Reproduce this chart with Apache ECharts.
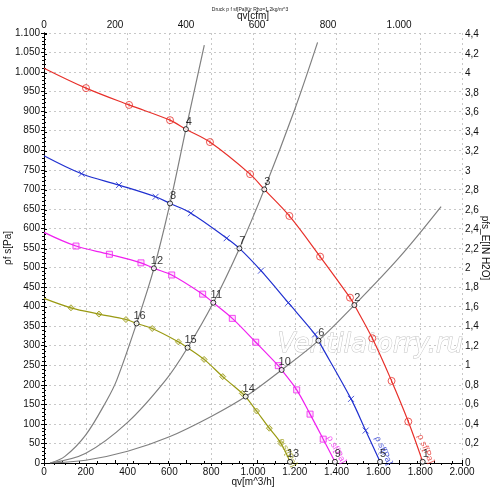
<!DOCTYPE html>
<html>
<head>
<meta charset="utf-8">
<script src="https://cdn.jsdelivr.net/npm/echarts@6/dist/echarts.min.js"></script>
<style>
html, body { margin: 0; padding: 0; background: #fff; }
#chart { width: 500px; height: 493px; }
</style>
</head>
<body>
<div id="chart"></div>
<script>
// Kennlinien ablesen: qv in m^3/h, p in Pa
const redStart = 1010;
const redMarkQ = [201, 407, 603, 794, 986, 1174, 1321, 1464, 1571, 1663, 1743];
const redMarkP = [959, 916, 877, 821, 739, 632, 528, 423, 319, 210, 106];

const blueStart = 786;
const blueMarkQ = [180, 359, 534, 703, 874, 1038, 1169, 1297, 1469, 1539];
const blueMarkP = [740, 711, 681, 639, 575, 492, 410, 329, 164, 83];

const pinkStart = 590;
const pinkMarkQ = [153, 313, 464, 611, 759, 901, 1013, 1121, 1209, 1273, 1336];
const pinkMarkP = [555, 534, 512, 481, 432, 370, 309, 249, 187, 125, 61];

const oliveStart = 421;
const oliveMarkQ = [129, 263, 392, 518, 643, 766, 855, 949, 1017, 1078, 1134];
const oliveMarkP = [397, 381, 367, 344, 310, 265, 221, 178, 133, 89, 50];

// Betriebspunkte 1..16
const pointIds = ['1', '2', '3', '4', '5', '6', '7', '8', '9', '10', '11', '12', '13', '14', '15', '16'];
const pointQ = [1812, 1485, 1054, 679, 1608, 1313, 935, 603, 1392, 1137, 810, 526, 1177, 965, 687, 443];
const pointP = [3, 404, 700, 854, 3, 313, 549, 664, 3, 238, 410, 498, 3, 170, 295, 357];

// Anlagenkennlinien (grau)
const sysAQ = [30, 100, 200, 300, 348, 443, 526, 603, 679, 767];
const sysAP = [0, 17, 72, 160, 212, 357, 498, 664, 854, 1069];
const sysBQ = [30, 200, 400, 582, 687, 810, 935, 1054, 1200, 1309];
const sysBP = [0, 25, 104, 212, 295, 410, 549, 700, 905, 1076];
const sysCQ = [30, 200, 400, 600, 800, 965, 1137, 1313, 1485, 1700, 1900];
const sysCP = [0, 7, 30, 67, 119, 170, 238, 313, 404, 526, 656];

// Beschriftung "ρ sf[Pa]" an den Kurven
const curveLabelQ = [1826, 1624, 1399, 1166];
const curveLabelP = [36, 32, 34, 27];
const curveLabelRot = [-68, -65, -61, -63];

const xTicks = [0, 2000, 200];
const yTicks = [0, 1100, 50];
const cfmPerM3h = 0.58858;
const inH2OPerPa = 1 / 249.089;

const colRed = '#e8302a', colBlue = '#2030d0', colPink = '#f020f0', colOlive = '#9a9a12';

function pairs(q, p) { return q.map((v, i) => [v, p[i]]); }
function curve(start, mq, mp, ids) {
  const pts = [[0, start]].concat(pairs(mq, mp));
  ids.forEach(id => { const i = pointIds.indexOf(id); pts.push([pointQ[i], pointP[i]]); });
  return pts.sort((a, b) => a[0] - b[0]);
}
function thousands(v) {
  v = Math.round(v);
  return v >= 1000 ? Math.floor(v / 1000) + '.' + String(v % 1000).padStart(3, '0') : String(v);
}

const circlePath = 'path://M10,0A10,10,0,1,1,10,20A10,10,0,1,1,10,0ZM10,5L10,15';
const crossPath = 'path://M0,0L20,20M0,20L20,0';

const chart = echarts.init(document.getElementById('chart'));

function lineSeries(data, color) {
  return { type: 'line', data: data, smooth: 0.35, showSymbol: false, silent: true,
    lineStyle: { color: color, width: 1.2 }, z: 3 };
}
function markSeries(q, p, symbol, size, color, fill) {
  return { type: 'scatter', data: pairs(q, p), symbol: symbol, symbolSize: size, symbolKeepAspect: true,
    itemStyle: { color: fill, borderColor: color, borderWidth: 1 }, z: 4, silent: true };
}

const curveColors = [colRed, colBlue, colPink, colOlive];

const option = {
  animation: false,
  backgroundColor: '#fff',
  textStyle: { fontFamily: 'Liberation Sans, Arial, sans-serif' },
  title: {
    text: 'Druck p f sf[Pa]für Rho=1,2kg/m^3', left: 'center', top: 2,
    textStyle: { fontSize: 5, fontWeight: 'normal', color: '#222' }
  },
  grid: { left: 44, right: 38, top: 33, bottom: 30, containLabel: false, outerBoundsMode: 'none' },
  xAxis: [{
    type: 'value', min: xTicks[0], max: xTicks[1], interval: xTicks[2], position: 'bottom',
    name: 'qv[m^3/h]', nameLocation: 'middle', nameGap: 14, nameMoveOverlap: false,
    nameTextStyle: { fontSize: 10, color: '#111' },
    axisLine: { lineStyle: { color: '#000' } },
    axisTick: { length: 3, lineStyle: { color: '#000' } },
    minorTick: { show: true, splitNumber: 4, length: 2, lineStyle: { color: '#000' } },
    axisLabel: { fontSize: 10, color: '#111', margin: 4, formatter: thousands },
    splitLine: { show: true, lineStyle: { color: '#c8c8c8', type: [2, 3] } }
  }, {
    type: 'value', min: 0, max: xTicks[1] * cfmPerM3h, interval: 200, position: 'top',
    name: 'qv[cfm]', nameLocation: 'middle', nameGap: 12, nameMoveOverlap: false,
    nameTextStyle: { fontSize: 10, color: '#111' },
    axisLine: { show: true, lineStyle: { color: '#000' } },
    axisTick: { length: 3, lineStyle: { color: '#000' } },
    minorTick: { show: true, splitNumber: 4, length: 2, lineStyle: { color: '#000' } },
    axisLabel: { fontSize: 10, color: '#111', margin: 3, showMaxLabel: false, formatter: thousands },
    splitLine: { show: false }
  }],
  yAxis: [{
    type: 'value', min: yTicks[0], max: yTicks[1], interval: yTicks[2],
    name: 'ρf s[Pa]', nameLocation: 'middle', nameGap: 31, nameMoveOverlap: false,
    nameTextStyle: { fontSize: 10, color: '#111' },
    axisLine: { show: true, lineStyle: { color: '#000' } },
    axisTick: { length: 3, lineStyle: { color: '#000' } },
    minorTick: { show: true, splitNumber: 5, length: 2, lineStyle: { color: '#000' } },
    axisLabel: { fontSize: 10, color: '#111', margin: 4, formatter: thousands },
    splitLine: { show: true, lineStyle: { color: '#c8c8c8', type: [2, 3] } }
  }, {
    type: 'value', min: 0, max: yTicks[1] * inH2OPerPa, interval: 0.2, position: 'right',
    name: 'pfs_E[IN H2O]', nameLocation: 'middle', nameGap: 18, nameRotate: -90, nameMoveOverlap: false,
    nameTextStyle: { fontSize: 10, color: '#111' },
    axisLine: { show: true, lineStyle: { color: '#000' } },
    axisTick: { length: 3, lineStyle: { color: '#000' } },
    minorTick: { show: true, splitNumber: 4, length: 2, lineStyle: { color: '#000' } },
    axisLabel: { fontSize: 10, color: '#111', margin: 3, showMaxLabel: false,
      formatter: v => String(Math.round(v * 10) / 10).replace('.', ',') },
    splitLine: { show: false }
  }],
  graphic: [{
    type: 'text', left: 277, top: 332, z: 1, silent: true,
    style: { text: 'Ventilatorry.ru', fontSize: 26, fontStyle: 'italic', fontFamily: 'DejaVu Sans, sans-serif',
      fill: '#ffffff', stroke: '#c4c4c4', lineWidth: 1 }
  }],
  series: [
    lineSeries(pairs(sysAQ, sysAP), '#808080'),
    lineSeries(pairs(sysBQ, sysBP), '#808080'),
    lineSeries(pairs(sysCQ, sysCP), '#808080'),
    lineSeries(curve(redStart, redMarkQ, redMarkP, ['1', '2', '3', '4']), colRed),
    lineSeries(curve(blueStart, blueMarkQ, blueMarkP, ['5', '6', '7', '8']), colBlue),
    lineSeries(curve(pinkStart, pinkMarkQ, pinkMarkP, ['9', '10', '11', '12']), colPink),
    lineSeries(curve(oliveStart, oliveMarkQ, oliveMarkP, ['13', '14', '15', '16']), colOlive),
    markSeries(redMarkQ, redMarkP, circlePath, 7, colRed, 'rgba(0,0,0,0)'),
    markSeries(blueMarkQ, blueMarkP, crossPath, 6, colBlue, 'rgba(0,0,0,0)'),
    markSeries(pinkMarkQ, pinkMarkP, 'rect', 6, colPink, 'rgba(240,32,240,0.15)'),
    markSeries(oliveMarkQ, oliveMarkP, 'diamond', 6, colOlive, 'rgba(154,154,18,0.3)'),
    {
      type: 'scatter', silent: true, z: 6, clip: false,
      data: pointQ.map((q, i) => ({ value: [q, pointP[i]], name: pointIds[i] })),
      symbol: 'circle', symbolSize: 5,
      itemStyle: { color: '#fff', borderColor: '#000', borderWidth: 1 },
      label: { show: true, position: 'top', distance: 0, offset: [3, 1], formatter: '{b}',
        fontSize: 11, color: '#000' }
    },
    {
      type: 'scatter', silent: true, z: 5, symbolSize: 0,
      data: curveLabelQ.map((q, i) => ({
        value: [q, curveLabelP[i]],
        label: { color: curveColors[i], rotate: curveLabelRot[i] }
      })),
      label: { show: true, position: 'inside', formatter: 'ρ sf[Pa]', fontSize: 9 }
    }
  ]
};

chart.setOption(option);
</script>
</body>
</html>
